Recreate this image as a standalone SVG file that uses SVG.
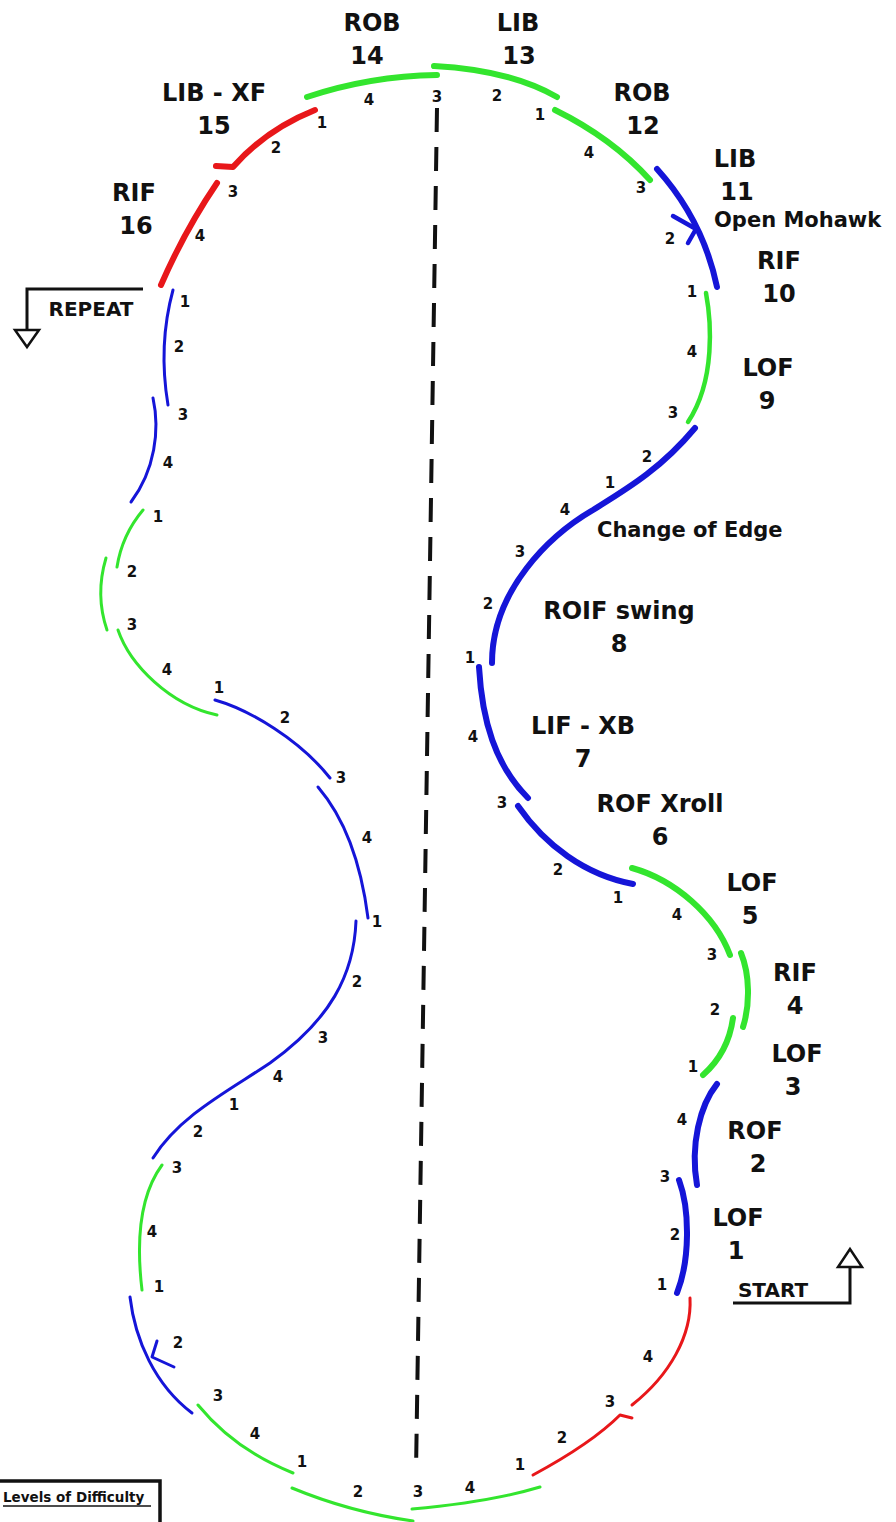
<svg xmlns="http://www.w3.org/2000/svg" width="896" height="1522" viewBox="0 0 896 1522">
<style>
.bg{fill:#ffffff}
.s{fill:none;stroke-linecap:round;stroke-linejoin:round}
.g{stroke:#33e52e}
.b{stroke:#1515d8}
.r{stroke:#e8171a}
.thick{stroke-width:6}
.mid{stroke-width:4.5}
.thin{stroke-width:3}
.lbl{font-family:"DejaVu Sans","Liberation Sans",sans-serif;font-weight:bold;fill:#111;text-anchor:middle;font-size:24px}
.sub{font-family:"DejaVu Sans","Liberation Sans",sans-serif;font-weight:bold;fill:#111;font-size:20px}
.sub2{font-family:"DejaVu Sans","Liberation Sans",sans-serif;font-weight:bold;fill:#111;font-size:21px}
.n{font-family:"DejaVu Sans","Liberation Sans",sans-serif;font-weight:bold;fill:#111;text-anchor:middle;font-size:15px}
.sym{fill:none;stroke:#111;stroke-width:3}
</style>
<rect class="bg" x="0" y="0" width="896" height="1522"/>

<g id="connectors">
  <path id="centerline" d="M437,108 L416,1472" fill="none" stroke="#111" stroke-width="4" stroke-dasharray="24 15"/>
  <path class="s g thick" d="M307,97 Q370,76 437,75"/>
  <path class="s g thick" d="M434,66 Q510,70 557,97"/>
  <path class="s g thick" d="M555,110 Q612,138 650,180"/>
  <path class="s b thick" d="M657,169 Q703,220 717,287"/>
  <polyline class="s b mid" points="673,216 696,229 688,243"/>
  <path class="s g mid" d="M706,293 C711,320 716,380 688,422"/>
  <path class="s b thick" d="M695,428 C660,470 625,490 593,510 C550,535 492,590 492,663"/>
  <path class="s b thick" d="M479,667 C482,720 495,765 528,798"/>
  <path class="s b thick" d="M518,806 C545,845 585,875 633,884"/>
  <path class="s g thick" d="M632,868 C675,880 715,915 730,955"/>
  <path class="s g thick" d="M741,953 C750,975 750,1005 743,1027"/>
  <path class="s g thick" d="M733,1018 C730,1040 720,1060 703,1075"/>
  <path class="s b thick" d="M717,1084 C700,1105 690,1145 697,1185"/>
  <path class="s b thick" d="M679,1180 C690,1210 690,1260 677,1293"/>
  <path class="s r thin" d="M690,1298 C692,1335 670,1375 632,1405"/>
  <path class="s r thin" d="M632,1418 L620,1415 C600,1435 570,1455 533,1475"/>
  <path class="s g thin" d="M412,1509 Q490,1502 540,1487"/>
  <path class="s g thin" d="M292,1488 Q350,1512 413,1521"/>
  <path class="s g thin" d="M198,1405 Q235,1450 293,1473"/>
  <path class="s b thin" d="M130,1297 C135,1340 155,1385 192,1413"/>
  <polyline class="s b thin" points="157,1341 152,1357 174,1367"/>
  <path class="s g thin" d="M162,1165 C140,1195 136,1240 142,1290"/>
  <path class="s b thin" d="M356,921 C354,975 330,1020 270,1063 C230,1090 180,1115 153,1158"/>
  <path class="s b thin" d="M318,787 C342,815 360,855 368,918"/>
  <path class="s b thin" d="M215,700 C250,710 300,740 330,778"/>
  <path class="s g thin" d="M118,630 C130,665 170,705 217,715"/>
  <path class="s g thin" d="M106,558 Q95,595 107,630"/>
  <path class="s g thin" d="M143,510 Q122,535 117,567"/>
  <path class="s b thin" d="M153,398 C160,430 155,470 131,502"/>
  <path class="s b thin" d="M173,290 Q158,345 168,405"/>
  <path class="s r thick" d="M217,183 Q185,230 161,285"/>
  <path class="s r thick" d="M315,110 C285,122 255,142 233,167 L216,166"/>
</g>

<g id="labels">
  <g id="n14"><text class="lbl" x="372" y="31">ROB</text><text class="lbl" x="367" y="64">14</text></g>
  <g id="n13"><text class="lbl" x="518" y="31">LIB</text><text class="lbl" x="519" y="64">13</text></g>
  <g id="n15"><text class="lbl" x="214" y="101">LIB - XF</text><text class="lbl" x="214" y="134">15</text></g>
  <g id="n12"><text class="lbl" x="642" y="101">ROB</text><text class="lbl" x="643" y="134">12</text></g>
  <g id="n11"><text class="lbl" x="735" y="167">LIB</text><text class="lbl" x="737" y="200">11</text><text class="sub2" x="714" y="227">Open Mohawk</text></g>
  <g id="n10"><text class="lbl" x="779" y="269">RIF</text><text class="lbl" x="779" y="302">10</text></g>
  <g id="n9"><text class="lbl" x="768" y="376">LOF</text><text class="lbl" x="767" y="409">9</text></g>
  <g id="n16"><text class="lbl" x="134" y="201">RIF</text><text class="lbl" x="136" y="234">16</text></g>
  <g id="n8"><text class="sub2" x="597" y="537">Change of Edge</text><text class="lbl" x="619" y="619">ROIF swing</text><text class="lbl" x="619" y="652">8</text></g>
  <g id="n7"><text class="lbl" x="583" y="734">LIF - XB</text><text class="lbl" x="583" y="767">7</text></g>
  <g id="n6"><text class="lbl" x="660" y="812">ROF Xroll</text><text class="lbl" x="660" y="845">6</text></g>
  <g id="n5"><text class="lbl" x="752" y="891">LOF</text><text class="lbl" x="750" y="924">5</text></g>
  <g id="n4"><text class="lbl" x="795" y="981">RIF</text><text class="lbl" x="795" y="1014">4</text></g>
  <g id="n3"><text class="lbl" x="797" y="1062">LOF</text><text class="lbl" x="793" y="1095">3</text></g>
  <g id="n2"><text class="lbl" x="755" y="1139">ROF</text><text class="lbl" x="758" y="1172">2</text></g>
  <g id="n1"><text class="lbl" x="738" y="1226">LOF</text><text class="lbl" x="736" y="1259">1</text></g>
</g>

<g id="counts">
  <text class="n" x="369" y="105">4</text><text class="n" x="437" y="102">3</text>
  <text class="n" x="497" y="101">2</text><text class="n" x="540" y="120">1</text>
  <text class="n" x="589" y="158">4</text><text class="n" x="641" y="193">3</text>
  <text class="n" x="322" y="128">1</text><text class="n" x="276" y="153">2</text>
  <text class="n" x="233" y="197">3</text><text class="n" x="200" y="241">4</text>
  <text class="n" x="670" y="244">2</text><text class="n" x="692" y="297">1</text>
  <text class="n" x="692" y="357">4</text><text class="n" x="673" y="418">3</text>
  <text class="n" x="647" y="462">2</text><text class="n" x="610" y="488">1</text>
  <text class="n" x="565" y="515">4</text><text class="n" x="520" y="557">3</text>
  <text class="n" x="488" y="609">2</text><text class="n" x="470" y="663">1</text>
  <text class="n" x="473" y="742">4</text><text class="n" x="502" y="808">3</text>
  <text class="n" x="558" y="875">2</text><text class="n" x="618" y="903">1</text>
  <text class="n" x="677" y="920">4</text><text class="n" x="712" y="960">3</text>
  <text class="n" x="715" y="1015">2</text><text class="n" x="693" y="1072">1</text>
  <text class="n" x="682" y="1125">4</text><text class="n" x="665" y="1182">3</text>
  <text class="n" x="675" y="1240">2</text><text class="n" x="662" y="1290">1</text>
  <text class="n" x="648" y="1362">4</text><text class="n" x="610" y="1407">3</text>
  <text class="n" x="562" y="1443">2</text><text class="n" x="520" y="1470">1</text>
  <text class="n" x="470" y="1493">4</text><text class="n" x="418" y="1497">3</text>
  <text class="n" x="358" y="1497">2</text><text class="n" x="302" y="1467">1</text>
  <text class="n" x="255" y="1439">4</text><text class="n" x="218" y="1401">3</text>
  <text class="n" x="178" y="1348">2</text><text class="n" x="159" y="1292">1</text>
  <text class="n" x="152" y="1237">4</text><text class="n" x="177" y="1173">3</text>
  <text class="n" x="198" y="1137">2</text><text class="n" x="234" y="1110">1</text>
  <text class="n" x="278" y="1082">4</text><text class="n" x="323" y="1043">3</text>
  <text class="n" x="357" y="987">2</text><text class="n" x="377" y="927">1</text>
  <text class="n" x="367" y="843">4</text><text class="n" x="341" y="783">3</text>
  <text class="n" x="285" y="723">2</text><text class="n" x="219" y="693">1</text>
  <text class="n" x="167" y="675">4</text><text class="n" x="132" y="630">3</text>
  <text class="n" x="132" y="577">2</text><text class="n" x="158" y="522">1</text>
  <text class="n" x="168" y="468">4</text><text class="n" x="183" y="420">3</text>
  <text class="n" x="179" y="352">2</text><text class="n" x="185" y="307">1</text>
</g>

<g id="repeat">
  <polyline class="sym" points="143,289 27,289 27,330"/>
  <polygon points="15,330 39,330 27,347" fill="#fff" stroke="#111" stroke-width="2.5"/>
  <text class="sub" x="91" y="316" text-anchor="middle">REPEAT</text>
</g>

<g id="start">
  <polyline class="sym" points="733,1303 850,1303 850,1267"/>
  <polygon points="838,1267 862,1267 850,1249" fill="#fff" stroke="#111" stroke-width="2.5"/>
  <text class="sub" x="773" y="1297" text-anchor="middle">START</text>
</g>

<g id="legend">
  <rect x="-10" y="1481" width="170" height="60" fill="#fff" stroke="#111" stroke-width="3.5"/>
  <text x="3" y="1502" font-family="DejaVu Sans, Liberation Sans, sans-serif" font-weight="bold" font-size="13.5" fill="#111">Levels of Difficulty</text>
  <line x1="3" y1="1506" x2="151" y2="1506" stroke="#111" stroke-width="1.5"/>
</g>
</svg>
